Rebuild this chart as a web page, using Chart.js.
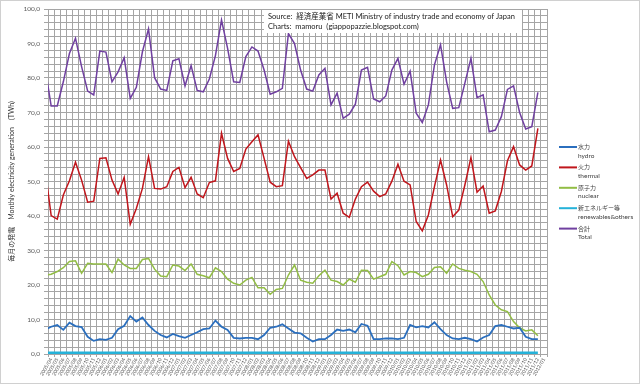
<!DOCTYPE html>
<html><head><meta charset="utf-8">
<script src="https://cdn.jsdelivr.net/npm/chart.js@4"></script>
<style>html,body{margin:0;padding:0;background:#fff}#wrap{width:640px;height:384px}</style>
</head><body><div id="wrap"><canvas id="c" width="640" height="384"></canvas></div>
<script>
// month labels (index 0 = 2005/03, first point is partly outside the plot)
const monthLabels = [
 "2005/03","2005/04","2005/05","2005/06","2005/07","2005/08","2005/09","2005/10","2005/11","2005/12",
 "2006/01","2006/02","2006/03","2006/04","2006/05","2006/06","2006/07","2006/08","2006/09","2006/10","2006/11","2006/12",
 "2007/01","2007/02","2007/03","2007/04","2007/05","2007/06","2007/07","2007/08","2007/09","2007/10","2007/11","2007/12",
 "2008/01","2008/02","2008/03","2008/04","2008/05","2008/06","2008/07","2008/08","2008/09","2008/10","2008/11","2008/12",
 "2009/01","2009/02","2009/03","2009/04","2009/05","2009/06","2009/07","2009/08","2009/09","2009/10","2009/11","2009/12",
 "2010/01","2010/02","2010/03","2010/04","2010/05","2010/06","2010/07","2010/08","2010/09","2010/10","2010/11","2010/12",
 "2011/01","2011/02","2011/03","2011/04","2011/05","2011/06","2011/07","2011/08","2011/09","2011/10","2011/11","2011/12",
 "2012/01"
];
const seriesJa = ["水力","火力","原子力","新エネルギー等","合計"];
const seriesEn = ["hydro","thermal","nuclear","renewables&others","Total"];

const hydro = [7.0,7.9,8.4,7.0,9.1,8.1,7.8,5.0,3.8,4.3,
 4.1,4.7,7.2,8.2,11.0,9.4,10.6,8.4,6.7,5.5,
 4.8,5.8,5.2,4.7,5.5,6.3,7.2,7.4,9.7,7.9,
 7.0,4.7,4.5,4.7,4.7,4.3,5.5,7.6,7.9,8.6,
 7.4,6.2,6.0,4.7,3.6,4.3,4.3,5.5,7.1,6.7,
 7.1,6.3,8.7,8.2,4.3,4.3,4.5,4.5,4.3,4.7,
 8.4,7.7,8.1,7.7,9.2,7.2,5.5,4.5,4.3,4.7,
 4.3,3.6,4.8,5.5,8.1,8.4,7.9,7.4,7.6,5.0,
 4.3,4.3];
const thermal = [53.5,40.1,39.1,46.1,50.2,55.6,50.4,44.0,44.3,56.7,
 56.9,50.4,46.4,51.2,37.6,42.2,48.0,57.2,48.0,47.8,
 48.5,52.9,54.1,48.2,51.2,46.4,45.3,49.7,50.2,64.0,
 56.7,52.9,53.8,59.4,61.5,63.5,56.7,49.8,48.5,48.8,
 61.7,57.2,54.0,50.9,51.9,53.3,53.3,44.9,46.6,40.8,
 39.6,44.9,48.5,49.8,47.2,45.6,46.4,50.1,55.0,50.1,
 49.0,38.4,35.7,40.3,48.5,56.2,49.0,39.8,41.7,49.0,
 56.9,46.9,48.7,40.8,41.5,47.1,56.0,60.1,54.8,53.3,
 54.5,65.4];
const nuclear = [22.8,23.1,23.9,25.0,26.8,27.0,23.4,26.3,26.1,26.1,
 26.1,23.6,27.5,25.8,24.8,24.8,27.4,27.7,24.6,22.6,
 22.4,25.8,25.5,24.2,26.1,23.1,22.7,22.1,25.0,23.9,
 21.7,20.5,20.0,21.4,22.2,19.2,19.2,17.3,18.7,19.0,
 22.9,25.8,21.4,20.8,20.5,22.7,24.3,21.4,21.0,20.0,
 21.7,20.8,24.3,24.2,21.7,22.4,23.1,26.8,25.6,22.9,
 23.9,23.6,22.4,23.1,25.1,25.3,23.4,26.1,24.8,24.3,
 23.9,23.1,21.0,17.1,14.2,12.8,12.3,9.4,7.6,6.7,
 7.0,5.3];
const renewables = [0.3,0.3,0.3,0.3,0.3,0.3,0.3,0.3,0.3,0.3,
 0.3,0.3,0.3,0.3,0.3,0.3,0.3,0.3,0.3,0.3,
 0.3,0.3,0.3,0.3,0.3,0.3,0.3,0.3,0.3,0.3,
 0.3,0.3,0.3,0.3,0.3,0.3,0.3,0.3,0.3,0.3,
 0.3,0.3,0.3,0.3,0.3,0.3,0.3,0.3,0.3,0.3,
 0.3,0.3,0.3,0.3,0.3,0.3,0.3,0.3,0.3,0.3,
 0.3,0.3,0.3,0.3,0.3,0.3,0.3,0.3,0.3,0.3,
 0.3,0.3,0.3,0.3,0.3,0.3,0.3,0.3,0.3,0.3,
 0.3,0.3];
const total = [83.0,71.9,71.9,78.9,87.1,91.5,83.3,76.2,75.1,87.8,
 87.5,78.9,81.8,85.9,74.1,77.3,87.6,94.2,80.1,76.8,
 76.4,85.0,85.6,77.7,83.6,76.4,76.0,79.7,86.5,96.8,
 88.6,78.9,78.7,86.2,89.0,87.8,82.3,75.3,76.0,77.0,
 92.9,90.0,82.3,76.8,76.2,80.9,82.8,72.2,75.6,68.3,
 69.5,72.4,82.3,83.1,73.9,73.1,74.8,82.3,85.7,78.2,
 82.0,69.8,67.1,72.2,83.8,89.6,78.9,71.2,71.4,78.5,
 85.7,74.3,75.1,64.4,64.9,68.8,76.7,77.7,70.0,65.2,
 65.9,75.8];

const sourceLine1 = "Source:  経済産業省 METI Ministry of industry trade and economy of Japan";
const sourceLine2 = "Charts:  mamoru  (giappopazzie.blogspot.com)";
const yTitle = "毎月の発電　Monthly electricity generation　(TWh)";

const FONT = 'Lato, "Noto Sans CJK JP", "Noto Sans", sans-serif';
Chart.defaults.font.family = FONT;

function mk(label, vals, color, w) {
  return { label, data: vals.map((v, i) => ({ x: i, y: v })), borderColor: color, backgroundColor: color,
           borderWidth: w, pointRadius: 0, tension: 0, fill: false };
}

const bgPlugin = {
  id: 'bg',
  beforeDraw(chart) {
    const c = chart.ctx;
    c.save();
    c.fillStyle = '#fff';
    c.fillRect(0, 0, chart.width, chart.height);
    c.restore();
  },
  afterDatasetsDraw(chart) {
    const c = chart.ctx, a = chart.chartArea;
    c.save();
    c.fillStyle = '#fff';
    c.fillRect(a.left + 216, a.top + 1, 258, 23);
    c.fillStyle = '#1a1a1a';
    c.font = '7.5px ' + FONT;
    c.textBaseline = 'middle';
    c.fillText(sourceLine1, a.left + 220, a.top + 7.5);
    c.fillText(sourceLine2, a.left + 220, a.top + 17.5);
    c.restore();
  },
  afterDraw(chart) {
    const c = chart.ctx, a = chart.chartArea;
    c.save();
    const x0 = a.right + 12;
    chart.data.datasets.forEach((d, k) => {
      const y = a.top + 138 + 20.4 * k;
      c.strokeStyle = d.borderColor;
      c.lineWidth = 2;
      c.beginPath(); c.moveTo(x0, y); c.lineTo(x0 + 18, y); c.stroke();
      c.fillStyle = '#404040';
      c.textBaseline = 'middle';
      c.font = '6px ' + FONT;
      c.fillText(seriesJa[k], x0 + 19, y);
      c.font = '6.5px ' + FONT;
      c.fillText(seriesEn[k], x0 + 19, y + 8.5);
    });
    c.strokeStyle = '#d0d0d0';
    c.lineWidth = 1;
    c.strokeRect(0.5, 0.5, chart.width - 1, chart.height - 1);
    c.restore();
  }
};

new Chart(document.getElementById('c'), {
  type: 'line',
  data: {
    datasets: [
      mk(seriesJa[0], hydro, '#2b6fbe', 1.8),
      mk(seriesJa[1], thermal, '#c0161c', 1.5),
      mk(seriesJa[2], nuclear, '#92bd45', 1.5),
      mk(seriesJa[3], renewables, '#25b2d9', 3),
      mk(seriesJa[4], total, '#7040a0', 1.5)
    ]
  },
  options: {
    responsive: false, animation: false, devicePixelRatio: 1,
    layout: { padding: { left: 0, right: 93, top: 9, bottom: 0 } },
    plugins: { legend: { display: false }, tooltip: { enabled: false } },
    scales: {
      x: {
        type: 'linear', min: 0.48, max: 82.5,
        afterFit(s) { s.height = 30; },
        grid: { offset: true, color: '#a5a5a5', lineWidth: 1, tickLength: 3 },
        border: { color: '#a5a5a5' },
        ticks: { stepSize: 1, includeBounds: false, autoSkip: false, minRotation: 60, maxRotation: 60,
                 padding: 0, color: '#595959', font: { size: 5 },
                 callback: v => (monthLabels[v] !== undefined ? monthLabels[v] : '') }
      },
      y: {
        min: 0, max: 100,
        afterFit(s) { s.width = 48; },
        grid: { color: '#a5a5a5', lineWidth: 1, tickLength: 4 },
        border: { color: '#a5a5a5' },
        ticks: { stepSize: 2, autoSkip: false, padding: 4, color: '#595959', font: { size: 6.5 },
                 callback: v => (v % 10 === 0 ? v.toFixed(1).replace('.', ',') : '') },
        title: { display: true, text: yTitle, color: '#333', font: { size: 7 }, padding: { top: 8, bottom: 0 } }
      }
    }
  },
  plugins: [bgPlugin]
});
</script>
</body></html>
